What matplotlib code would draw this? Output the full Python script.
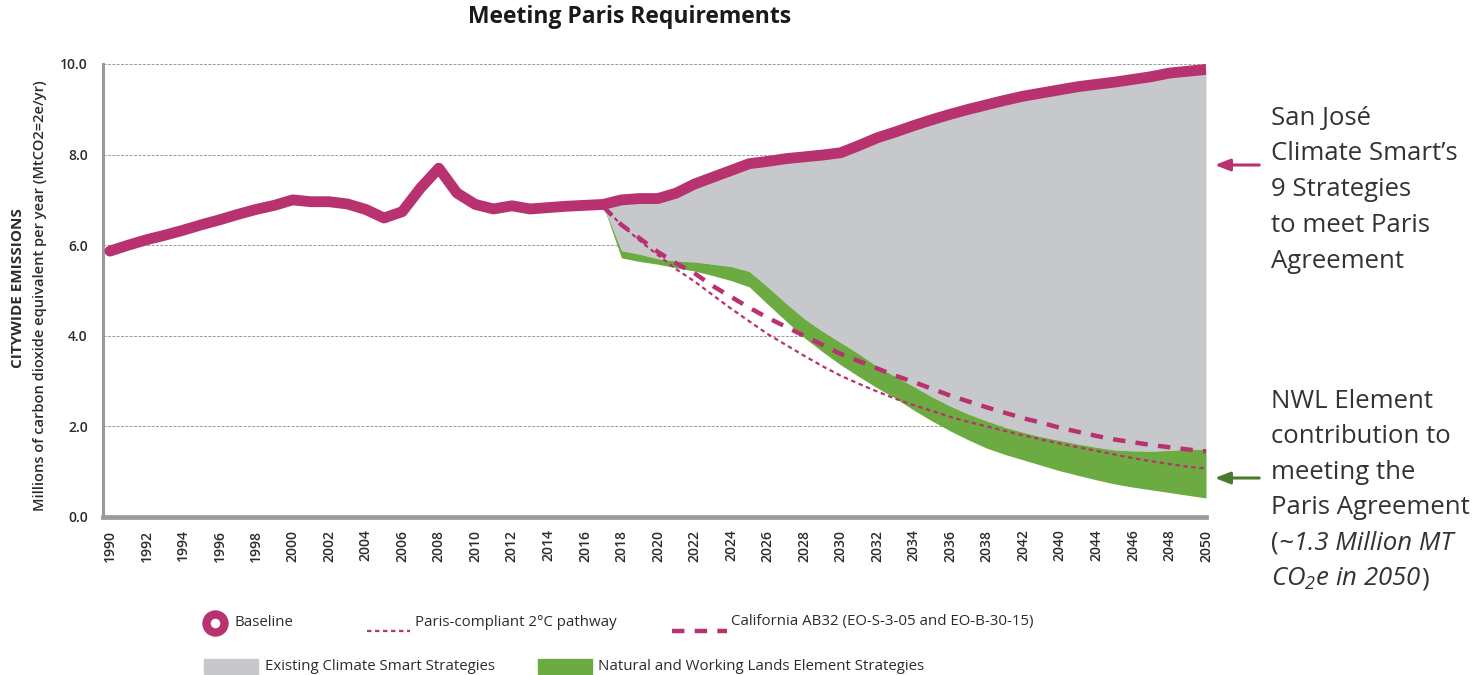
import matplotlib
matplotlib.use('Agg')
import numpy as np
import matplotlib.pyplot as plt
from matplotlib.lines import Line2D
from matplotlib.patches import Rectangle

plt.rcParams['font.family'] = ['Open Sans', 'DejaVu Sans']
plt.rcParams['mathtext.fontset'] = 'custom'
plt.rcParams['mathtext.rm'] = 'Open Sans:italic'
plt.rcParams['mathtext.it'] = 'Open Sans:italic'

# ---- data ----
years = np.arange(1990, 2051)
baseline = [5.87, 6.0, 6.12, 6.22, 6.33, 6.45, 6.56, 6.68, 6.79, 6.88,
            7.0, 6.96, 6.96, 6.91, 6.79, 6.6, 6.74, 7.26, 7.7, 7.15,
            6.9, 6.8, 6.87, 6.8, 6.83, 6.86, 6.88, 6.9, 7.0, 7.03,
            7.03, 7.15, 7.35, 7.5, 7.65, 7.8, 7.85, 7.91, 7.95, 7.99,
            8.04, 8.2, 8.37, 8.5, 8.64, 8.77, 8.89, 9.0, 9.1, 9.2,
            9.29, 9.36, 9.43, 9.5, 9.55, 9.6, 9.66, 9.72, 9.8, 9.84,
            9.88]

strat_years = np.arange(2017, 2051)
nwl_top = [6.88, 5.88, 5.8, 5.7, 5.65, 5.63, 5.58, 5.53, 5.42, 5.08,
           4.72, 4.38, 4.1, 3.85, 3.6, 3.32, 3.1, 2.88, 2.65, 2.45,
           2.27, 2.12, 1.98, 1.87, 1.77, 1.69, 1.61, 1.54, 1.48, 1.46,
           1.45, 1.47, 1.49, 1.5]
nwl_bottom = [6.88, 5.72, 5.64, 5.58, 5.5, 5.43, 5.33, 5.22, 5.08, 4.7,
              4.33, 3.96, 3.65, 3.36, 3.1, 2.85, 2.62, 2.36, 2.12, 1.9,
              1.7, 1.52, 1.38, 1.26, 1.14, 1.02, 0.92, 0.82, 0.73, 0.66,
              0.6, 0.54, 0.48, 0.42]
paris = [6.85, 6.45, 6.1, 5.78, 5.47, 5.2, 4.9, 4.6, 4.32, 4.04,
         3.8, 3.56, 3.33, 3.12, 2.94, 2.77, 2.61, 2.47, 2.34, 2.21,
         2.1, 2.0, 1.9, 1.8, 1.71, 1.62, 1.54, 1.46, 1.38, 1.3,
         1.23, 1.17, 1.11, 1.07]
ab32 = [6.85, 6.45, 6.15, 5.85, 5.6, 5.38, 5.1, 4.86, 4.62, 4.4,
        4.2, 4.0, 3.8, 3.6, 3.44, 3.28, 3.12, 2.98, 2.83, 2.68,
        2.55, 2.42, 2.3, 2.18, 2.08, 1.97, 1.88, 1.79, 1.71, 1.65,
        1.59, 1.54, 1.49, 1.45]

tick_years = np.arange(1990, 2051, 2)
# labels as printed on the original (2040/2042 swapped there)
tick_labels = ['1990', '1992', '1994', '1996', '1998', '2000', '2002', '2004',
               '2006', '2008', '2010', '2012', '2014', '2016', '2018', '2020',
               '2022', '2024', '2026', '2028', '2030', '2032', '2034', '2036',
               '2038', '2042', '2040', '2044', '2046', '2048', '2050']

PINK = '#B8326F'
GREY = '#C7C8CC'
GREEN = '#6CAA42'
DKGREEN = '#4C7A2C'
TXT = '#2b2b2b'

W, H = 1479, 675
fig = plt.figure(figsize=(W / 100, H / 100), dpi=100)
ax = fig.add_axes([103 / W, 1 - 517 / H, (1206 - 103) / W, (517 - 64) / H])

# existing climate smart strategies (grey) and NWL element (green)
ax.fill_between(strat_years, nwl_top, baseline[27:], color=GREY, lw=0, zorder=2)
ax.fill_between(strat_years, nwl_bottom, nwl_top, color=GREEN, lw=0, zorder=2)

ax.plot(strat_years, paris, color=PINK, lw=1.6, ls=(0, (2, 1.6)), zorder=3)
ax.plot(strat_years, ab32, color=PINK, lw=3.2, ls=(0, (2.8, 2.3)), zorder=3)
ax.plot(years, baseline, color=PINK, lw=7.8, solid_capstyle='round', zorder=4)

ax.set_xlim(1989.62, 2050)
ax.set_ylim(0, 10)
ax.set_yticks([0, 2, 4, 6, 8, 10])
ax.set_yticklabels(['0.0', '2.0', '4.0', '6.0', '8.0', '10.0'])
ax.set_xticks(tick_years)
ax.set_xticklabels(tick_labels, rotation=90)
ax.tick_params(axis='both', length=0, labelsize=10, labelcolor=TXT)
ax.tick_params(axis='y', pad=11)
ax.tick_params(axis='x', pad=9)
for lab in ax.get_xticklabels() + ax.get_yticklabels():
    lab.set_fontweight('semibold')

ax.grid(axis='y', color='#9a9a9a', ls=(0, (3, 1.5)), lw=0.7, zorder=0)
ax.set_axisbelow(True)
for s in ['top', 'right']:
    ax.spines[s].set_visible(False)
ax.spines['left'].set_color('#9a9a9a')
ax.spines['left'].set_linewidth(2.2)
ax.spines['bottom'].set_color('#9a9a9a')
ax.spines['bottom'].set_linewidth(3.4)

# titles
fig.text(630 / W, 1 - 17 / H, 'Meeting Paris Requirements', ha='center', va='center',
         fontsize=16.5, fontweight='bold', color='#1a1a1a')
fig.text(18 / W, 1 - 288 / H, 'CITYWIDE EMISSIONS', rotation=90, ha='center', va='center',
         fontsize=11, fontweight='bold', color=TXT)
fig.text(40 / W, 1 - 296 / H, 'Millions of carbon dioxide equivalent per year (MtCO2=2e/yr)',
         rotation=90, ha='center', va='center', fontsize=10.5, fontweight='semibold', color=TXT)

# right-hand notes
NOTE_FS = 18.5
note1 = ['San José', 'Climate Smart\u2019s', '9 Strategies', 'to meet Paris', 'Agreement']
for i, t in enumerate(note1):
    fig.text(1271 / W, 1 - (118 + i * 36) / H, t, ha='left', va='center',
             fontsize=NOTE_FS, color='#333333')
note2 = ['NWL Element', 'contribution to', 'meeting the', 'Paris Agreement']
for i, t in enumerate(note2):
    fig.text(1271 / W, 1 - (401 + i * 35.6) / H, t, ha='left', va='center',
             fontsize=NOTE_FS, color='#333333')

renderer = fig.canvas.get_renderer()
y5 = 1 - (401 + 4 * 35.6) / H
y6 = 1 - (401 + 5 * 35.6) / H
p = fig.text(1271 / W, y5, '(', ha='left', va='center', fontsize=NOTE_FS, color='#333333')
pw = p.get_window_extent(renderer=renderer).width / W
fig.text(1271 / W + pw, y5, '~1.3 Million MT', ha='left', va='center', fontsize=NOTE_FS,
         style='italic', color='#333333')
it6 = fig.text(1271 / W, y6, r'CO$_2$e in 2050', ha='left', va='center', fontsize=NOTE_FS,
               style='italic', color='#333333')
iw = it6.get_window_extent(renderer=renderer).width / W
fig.text(1271 / W + iw, y6, ')', ha='left', va='center', fontsize=NOTE_FS, color='#333333')

ax.annotate('', xy=(1212 / W, 1 - 165 / H), xytext=(1262 / W, 1 - 165 / H),
            xycoords='figure fraction', textcoords='figure fraction',
            arrowprops=dict(arrowstyle='-|>,head_length=0.9,head_width=0.35',
                            color=PINK, lw=2.2))
ax.annotate('', xy=(1212 / W, 1 - 478 / H), xytext=(1262 / W, 1 - 478 / H),
            xycoords='figure fraction', textcoords='figure fraction',
            arrowprops=dict(arrowstyle='-|>,head_length=0.9,head_width=0.35',
                            color=DKGREEN, lw=2.2))

# legend, drawn by hand to sit like the original
def fx(x):
    return x / W

def fy(y):
    return 1 - y / H

LEG_FS = 10.8
fig.add_artist(Line2D([fx(215)], [fy(623)], marker='o', ms=13, mew=6,
                      mec=PINK, mfc='white', transform=fig.transFigure))
fig.text(fx(234), fy(623), 'Baseline', ha='left', va='center', fontsize=LEG_FS, color=TXT)
fig.add_artist(Line2D([fx(367), fx(410)], [fy(631), fy(631)], color=PINK, lw=1.6,
                      ls=(0, (2, 1.6)), transform=fig.transFigure))
fig.text(fx(415), fy(622), 'Paris-compliant 2°C pathway', ha='left', va='center',
         fontsize=LEG_FS, color=TXT)
fig.add_artist(Line2D([fx(672), fx(727)], [fy(631), fy(631)], color=PINK, lw=3.2,
                      ls=(0, (2.8, 2.3)), transform=fig.transFigure))
fig.text(fx(731), fy(621), 'California AB32 (EO-S-3-05 and EO-B-30-15)', ha='left',
         va='center', fontsize=LEG_FS, color=TXT)
fig.add_artist(Rectangle((fx(204), fy(674)), fx(258) - fx(204), fy(659) - fy(674),
                         color=GREY, transform=fig.transFigure))
fig.text(fx(265), fy(666), 'Existing Climate Smart Strategies', ha='left', va='center',
         fontsize=LEG_FS, color=TXT)
fig.add_artist(Rectangle((fx(538), fy(674)), fx(592) - fx(538), fy(659) - fy(674),
                         color=GREEN, transform=fig.transFigure))
fig.text(fx(598), fy(666), 'Natural and Working Lands Element Strategies', ha='left',
         va='center', fontsize=LEG_FS, color=TXT)

fig.savefig('out.png', dpi=100)
